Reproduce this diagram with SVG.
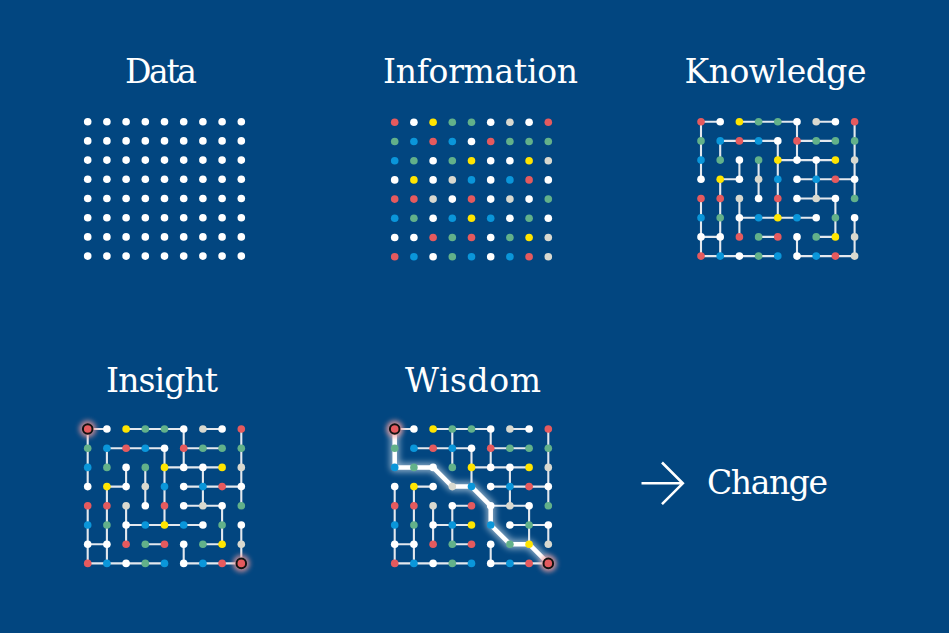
<svg xmlns="http://www.w3.org/2000/svg" xmlns:xlink="http://www.w3.org/1999/xlink" width="949" height="633" viewBox="0 0 949 633">
<style>
.bg{fill:#024680}
.t{font-family:"DejaVu Serif","Liberation Serif",serif;font-size:33px;fill:#ffffff;text-anchor:middle}
.r{fill:#e55a5e}.w{fill:#ffffff}.y{fill:#ffe500}.g{fill:#62b18a}.b{fill:#0a96da}.l{fill:#d9d9cf}
.ln{fill:none;stroke:#e3e8ee;stroke-width:2.1}
.hl{fill:none;stroke:#ffffff;stroke-width:4.5;stroke-linejoin:round;stroke-linecap:round}
.hlg{fill:none;stroke:#ffffff;stroke-width:9;stroke-linejoin:round;stroke-linecap:round;opacity:0.55}
.ring{fill:#e55a5e;stroke:#111111;stroke-width:2}
.ringglow{fill:#f29a9a;opacity:0.8}
.arrow{fill:none;stroke:#ffffff;stroke-width:2.6}
</style>
<defs>
<filter id="blur" x="-50%" y="-50%" width="200%" height="200%"><feGaussianBlur stdDeviation="3"/></filter>
<filter id="blur2" x="-100%" y="-100%" width="300%" height="300%"><feGaussianBlur stdDeviation="2.5"/></filter>
<g id="wrow">
<circle class="w" cx="0" cy="0" r="3.8"/><circle class="w" cx="19.2" cy="0" r="3.8"/><circle class="w" cx="38.4" cy="0" r="3.8"/><circle class="w" cx="57.6" cy="0" r="3.8"/><circle class="w" cx="76.8" cy="0" r="3.8"/><circle class="w" cx="96" cy="0" r="3.8"/><circle class="w" cx="115.2" cy="0" r="3.8"/><circle class="w" cx="134.4" cy="0" r="3.8"/><circle class="w" cx="153.6" cy="0" r="3.8"/>
</g>
<g id="cdots">
<circle class="r" cx="0" cy="0" r="3.8"/><circle class="w" cx="19.2" cy="0" r="3.8"/><circle class="y" cx="38.4" cy="0" r="3.8"/><circle class="g" cx="57.6" cy="0" r="3.8"/><circle class="g" cx="76.8" cy="0" r="3.8"/><circle class="w" cx="96" cy="0" r="3.8"/><circle class="l" cx="115.2" cy="0" r="3.8"/><circle class="w" cx="134.4" cy="0" r="3.8"/><circle class="r" cx="153.6" cy="0" r="3.8"/>
<circle class="g" cx="0" cy="19.2" r="3.8"/><circle class="b" cx="19.2" cy="19.2" r="3.8"/><circle class="r" cx="38.4" cy="19.2" r="3.8"/><circle class="b" cx="57.6" cy="19.2" r="3.8"/><circle class="w" cx="76.8" cy="19.2" r="3.8"/><circle class="r" cx="96" cy="19.2" r="3.8"/><circle class="g" cx="115.2" cy="19.2" r="3.8"/><circle class="g" cx="134.4" cy="19.2" r="3.8"/><circle class="g" cx="153.6" cy="19.2" r="3.8"/>
<circle class="b" cx="0" cy="38.4" r="3.8"/><circle class="g" cx="19.2" cy="38.4" r="3.8"/><circle class="w" cx="38.4" cy="38.4" r="3.8"/><circle class="g" cx="57.6" cy="38.4" r="3.8"/><circle class="y" cx="76.8" cy="38.4" r="3.8"/><circle class="w" cx="96" cy="38.4" r="3.8"/><circle class="w" cx="115.2" cy="38.4" r="3.8"/><circle class="y" cx="134.4" cy="38.4" r="3.8"/><circle class="l" cx="153.6" cy="38.4" r="3.8"/>
<circle class="w" cx="0" cy="57.6" r="3.8"/><circle class="y" cx="19.2" cy="57.6" r="3.8"/><circle class="w" cx="38.4" cy="57.6" r="3.8"/><circle class="l" cx="57.6" cy="57.6" r="3.8"/><circle class="b" cx="76.8" cy="57.6" r="3.8"/><circle class="w" cx="96" cy="57.6" r="3.8"/><circle class="b" cx="115.2" cy="57.6" r="3.8"/><circle class="r" cx="134.4" cy="57.6" r="3.8"/><circle class="w" cx="153.6" cy="57.6" r="3.8"/>
<circle class="r" cx="0" cy="76.8" r="3.8"/><circle class="r" cx="19.2" cy="76.8" r="3.8"/><circle class="l" cx="38.4" cy="76.8" r="3.8"/><circle class="w" cx="57.6" cy="76.8" r="3.8"/><circle class="r" cx="76.8" cy="76.8" r="3.8"/><circle class="w" cx="96" cy="76.8" r="3.8"/><circle class="l" cx="115.2" cy="76.8" r="3.8"/><circle class="w" cx="134.4" cy="76.8" r="3.8"/><circle class="g" cx="153.6" cy="76.8" r="3.8"/>
<circle class="b" cx="0" cy="96" r="3.8"/><circle class="g" cx="19.2" cy="96" r="3.8"/><circle class="w" cx="38.4" cy="96" r="3.8"/><circle class="b" cx="57.6" cy="96" r="3.8"/><circle class="y" cx="76.8" cy="96" r="3.8"/><circle class="b" cx="96" cy="96" r="3.8"/><circle class="w" cx="115.2" cy="96" r="3.8"/><circle class="g" cx="134.4" cy="96" r="3.8"/><circle class="w" cx="153.6" cy="96" r="3.8"/>
<circle class="w" cx="0" cy="115.2" r="3.8"/><circle class="w" cx="19.2" cy="115.2" r="3.8"/><circle class="r" cx="38.4" cy="115.2" r="3.8"/><circle class="g" cx="57.6" cy="115.2" r="3.8"/><circle class="r" cx="76.8" cy="115.2" r="3.8"/><circle class="w" cx="96" cy="115.2" r="3.8"/><circle class="g" cx="115.2" cy="115.2" r="3.8"/><circle class="y" cx="134.4" cy="115.2" r="3.8"/><circle class="l" cx="153.6" cy="115.2" r="3.8"/>
<circle class="r" cx="0" cy="134.4" r="3.8"/><circle class="b" cx="19.2" cy="134.4" r="3.8"/><circle class="w" cx="38.4" cy="134.4" r="3.8"/><circle class="g" cx="57.6" cy="134.4" r="3.8"/><circle class="b" cx="76.8" cy="134.4" r="3.8"/><circle class="w" cx="96" cy="134.4" r="3.8"/><circle class="b" cx="115.2" cy="134.4" r="3.8"/><circle class="r" cx="134.4" cy="134.4" r="3.8"/><circle class="l" cx="153.6" cy="134.4" r="3.8"/>
</g>
<path id="mazeA" class="ln" d="M0 0H19.2M38.4 0H96M115.2 0H134.4M19.2 19.2H76.8M96 19.2H134.4M76.8 38.4H134.4M19.2 57.6H38.4M96 57.6H153.6M96 76.8H134.4M38.4 96H115.2M0 115.2H19.2M57.6 115.2H76.8M115.2 115.2H134.4M0 134.4H76.8M96 134.4H153.6M0 0V57.6M0 76.8V134.4M19.2 19.2V38.4M19.2 57.6V134.4M38.4 38.4V57.6M38.4 76.8V115.2M57.6 38.4V76.8M76.8 19.2V96M96 0V38.4M96 115.2V134.4M115.2 38.4V76.8M134.4 76.8V115.2M153.6 0V76.8M153.6 96V134.4"/>
<path id="mazeW" class="ln" d="M0 0H19.2M38.4 0H96M115.2 0H134.4M19.2 19.2H76.8M96 19.2H134.4M76.8 38.4H134.4M19.2 57.6H38.4M96 57.6H153.6M57.6 76.8H76.8M96 76.8H134.4M38.4 96H76.8M115.2 96H153.6M0 115.2H19.2M57.6 115.2H76.8M0 134.4H76.8M96 134.4H153.6M0 57.6V134.4M19.2 57.6V134.4M38.4 76.8V115.2M57.6 0V38.4M57.6 76.8V115.2M76.8 19.2V57.6M96 0V38.4M96 115.2V134.4M115.2 38.4V76.8M134.4 76.8V115.2M153.6 0V76.8M153.6 96V115.2"/>
<g id="rings">
<circle class="ringglow" cx="0" cy="0" r="8.5" filter="url(#blur2)"/>
<circle class="ringglow" cx="153.6" cy="134.4" r="8.5" filter="url(#blur2)"/>
<circle class="ring" cx="0" cy="0" r="4.8"/>
<circle class="ring" cx="153.6" cy="134.4" r="4.8"/>
</g>
</defs>
<rect class="bg" x="0" y="0" width="949" height="633"/>

<g id="data">
<text class="t" x="161" y="83" textLength="72">Data</text>
<g transform="translate(87.7,121.7)">
<use xlink:href="#wrow" y="0"/><use xlink:href="#wrow" y="19.2"/><use xlink:href="#wrow" y="38.4"/><use xlink:href="#wrow" y="57.6"/><use xlink:href="#wrow" y="76.8"/><use xlink:href="#wrow" y="96"/><use xlink:href="#wrow" y="115.2"/><use xlink:href="#wrow" y="134.4"/>
</g>
</g>

<g id="information">
<text class="t" x="480.5" y="82.5" textLength="195">Information</text>
<g transform="translate(394.7,122.3)"><use xlink:href="#cdots"/></g>
</g>

<g id="knowledge">
<text class="t" x="775.5" y="83" textLength="182">Knowledge</text>
<g transform="translate(701,121.7)"><use xlink:href="#mazeA"/><use xlink:href="#cdots"/></g>
</g>

<g id="insight">
<text class="t" x="162" y="392" textLength="112">Insight</text>
<g transform="translate(87.7,429)"><use xlink:href="#mazeA"/><use xlink:href="#cdots"/><use xlink:href="#rings"/></g>
</g>

<g id="wisdom">
<text class="t" x="473" y="392" textLength="136">Wisdom</text>
<g transform="translate(394.7,429)">
<use xlink:href="#mazeW"/>
<path class="hlg" filter="url(#blur)" d="M0 0V38.4H38.4L57.6 57.6H76.8L96 76.8V96L115.2 115.2H134.4L153.6 134.4"/>
<path class="hl" d="M0 0V38.4H38.4L57.6 57.6H76.8L96 76.8V96L115.2 115.2H134.4L153.6 134.4"/>
<use xlink:href="#cdots"/><use xlink:href="#rings"/>
</g>
</g>

<g id="connectors">
<path class="arrow" d="M641.5 483.3H682.5M662 462.5L682.8 483.3L662 504.1"/>
</g>

<g id="change">
<text class="t" x="767.5" y="493.5" textLength="121">Change</text>
</g>
</svg>
